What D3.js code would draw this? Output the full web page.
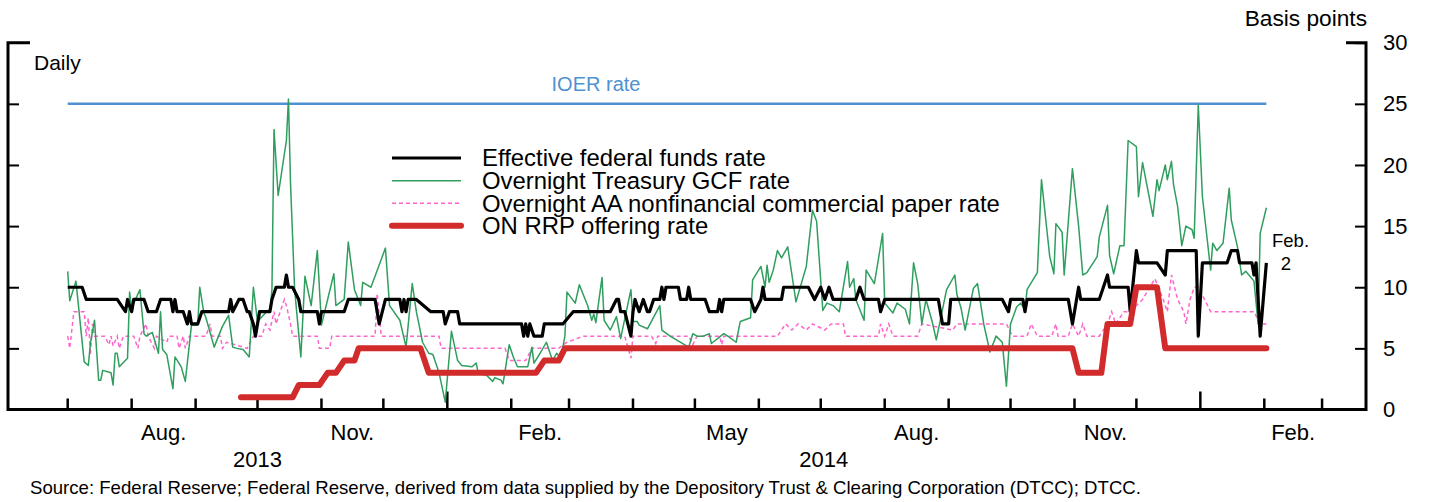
<!DOCTYPE html>
<html><head><meta charset="utf-8">
<script src="https://cdn.jsdelivr.net/npm/d3@7"></script>
<style>
html,body{margin:0;padding:0;background:#fff;}
svg{display:block;font-family:"Liberation Sans",Arial,Helvetica,sans-serif;}
</style></head><body>
<svg id="chart" width="1434" height="502"></svg>
<script>
// ---------------- DATA (basis points, daily) ----------------
const ioerDates = ["2013-07-01","2015-02-02"];
const ioerValues = [25,25];

const effrDates = ["2013-07-01","2013-07-08","2013-07-10","2013-07-25","2013-07-29","2013-07-30","2013-08-01","2013-08-02","2013-08-07","2013-08-09","2013-08-13","2013-08-15","2013-08-20","2013-08-21","2013-08-22","2013-08-23","2013-08-26","2013-08-28","2013-08-29","2013-08-30","2013-09-02","2013-09-04","2013-09-17","2013-09-18","2013-09-19","2013-09-22","2013-09-24","2013-09-26","2013-09-27","2013-09-29","2013-09-30","2013-10-01","2013-10-02","2013-10-07","2013-10-08","2013-10-10","2013-10-14","2013-10-15","2013-10-16","2013-10-18","2013-10-21","2013-10-22","2013-10-30","2013-10-31","2013-11-01","2013-11-12","2013-11-14","2013-11-27","2013-11-29","2013-12-02","2013-12-09","2013-12-10","2013-12-11","2013-12-12","2013-12-13","2013-12-17","2013-12-24","2013-12-30","2013-12-31","2014-01-02","2014-01-06","2014-01-07","2014-02-06","2014-02-07","2014-02-08","2014-02-09","2014-02-10","2014-02-12","2014-02-16","2014-02-17","2014-02-26","2014-03-03","2014-03-21","2014-03-24","2014-03-25","2014-03-26","2014-03-28","2014-03-31","2014-04-01","2014-04-02","2014-04-04","2014-04-06","2014-04-08","2014-04-09","2014-04-11","2014-04-14","2014-04-15","2014-04-16","2014-04-17","2014-04-23","2014-04-24","2014-04-27","2014-04-28","2014-04-29","2014-05-06","2014-05-08","2014-05-12","2014-05-13","2014-05-14","2014-05-15","2014-05-28","2014-05-30","2014-06-02","2014-06-03","2014-06-04","2014-06-12","2014-06-13","2014-06-25","2014-06-28","2014-07-01","2014-07-03","2014-07-05","2014-07-07","2014-07-18","2014-07-20","2014-07-22","2014-07-29","2014-07-30","2014-08-01","2014-08-27","2014-08-29","2014-09-01","2014-09-02","2014-09-27","2014-09-30","2014-10-01","2014-10-07","2014-10-08","2014-10-09","2014-10-29","2014-10-31","2014-11-03","2014-11-04","2014-11-13","2014-11-17","2014-11-18","2014-11-27","2014-11-28","2014-12-01","2014-12-02","2014-12-11","2014-12-15","2014-12-16","2014-12-30","2014-12-31","2015-01-02","2015-01-14","2015-01-16","2015-01-19","2015-01-20","2015-01-26","2015-01-27","2015-01-28","2015-01-30","2015-02-02"];
const effrValues = [10,10,9,9,8,9,8,9,9,8,8,9,9,8,9,8,8,7,8,7,7,8,8,9,8,9,9,8,8,7,6,7,8,8,9,10,10,11,10,10,9,8,8,7,8,8,9,9,7,9,9,8,9,8,9,9,8,8,7,8,8,7,7,6,7,6,7,6,6,7,7,8,8,9,9,8,8,6,8,9,8,9,8,8,9,9,10,9,10,10,9,9,10,9,9,8,8,9,8,9,9,8,9,10,9,9,10,10,9,10,9,10,9,9,10,9,9,8,9,9,7,7,9,9,8,9,9,8,9,9,7,10,9,9,11,10,10,8,13,12,12,11,13,13,6,12,12,13,13,12,12,11,12,6,12];

const gcfDates = ["2013-07-01","2013-07-02","2013-07-05","2013-07-09","2013-07-11","2013-07-12","2013-07-14","2013-07-16","2013-07-17","2013-07-18","2013-07-22","2013-07-23","2013-07-24","2013-07-25","2013-07-26","2013-07-30","2013-07-31","2013-08-01","2013-08-05","2013-08-07","2013-08-08","2013-08-11","2013-08-14","2013-08-15","2013-08-16","2013-08-18","2013-08-21","2013-08-22","2013-08-25","2013-08-27","2013-08-30","2013-09-02","2013-09-03","2013-09-05","2013-09-06","2013-09-10","2013-09-14","2013-09-17","2013-09-19","2013-09-21","2013-09-24","2013-09-27","2013-09-29","2013-10-01","2013-10-06","2013-10-07","2013-10-08","2013-10-09","2013-10-11","2013-10-15","2013-10-16","2013-10-17","2013-10-19","2013-10-22","2013-10-24","2013-10-27","2013-10-30","2013-11-01","2013-11-07","2013-11-08","2013-11-12","2013-11-14","2013-11-17","2013-11-20","2013-11-21","2013-11-25","2013-12-02","2013-12-04","2013-12-09","2013-12-12","2013-12-15","2013-12-17","2013-12-20","2013-12-23","2013-12-25","2013-12-28","2013-12-31","2014-01-03","2014-01-06","2014-01-08","2014-01-13","2014-01-15","2014-01-16","2014-01-20","2014-01-23","2014-01-24","2014-01-27","2014-01-28","2014-01-31","2014-02-02","2014-02-04","2014-02-09","2014-02-11","2014-02-12","2014-02-15","2014-02-18","2014-02-21","2014-02-23","2014-02-25","2014-02-27","2014-02-28","2014-03-04","2014-03-06","2014-03-10","2014-03-12","2014-03-13","2014-03-14","2014-03-17","2014-03-18","2014-03-21","2014-03-24","2014-03-26","2014-03-31","2014-04-01","2014-04-03","2014-04-04","2014-04-08","2014-04-14","2014-04-15","2014-04-19","2014-04-28","2014-04-30","2014-05-02","2014-05-05","2014-05-08","2014-05-09","2014-05-15","2014-05-17","2014-05-21","2014-05-23","2014-05-28","2014-05-29","2014-06-02","2014-06-04","2014-06-05","2014-06-06","2014-06-08","2014-06-10","2014-06-12","2014-06-15","2014-06-19","2014-06-24","2014-06-27","2014-06-29","2014-07-02","2014-07-04","2014-07-07","2014-07-10","2014-07-14","2014-07-15","2014-07-17","2014-07-18","2014-07-22","2014-07-23","2014-07-27","2014-07-31","2014-08-01","2014-08-05","2014-08-07","2014-08-11","2014-08-13","2014-08-15","2014-08-17","2014-08-19","2014-08-21","2014-08-24","2014-08-26","2014-08-31","2014-09-04","2014-09-05","2014-09-07","2014-09-09","2014-09-13","2014-09-15","2014-09-18","2014-09-21","2014-09-24","2014-09-27","2014-09-29","2014-10-01","2014-10-04","2014-10-06","2014-10-08","2014-10-09","2014-10-14","2014-10-16","2014-10-20","2014-10-22","2014-10-23","2014-10-26","2014-10-27","2014-10-31","2014-11-03","2014-11-05","2014-11-07","2014-11-12","2014-11-13","2014-11-17","2014-11-18","2014-11-20","2014-11-23","2014-11-25","2014-11-27","2014-12-01","2014-12-02","2014-12-04","2014-12-09","2014-12-11","2014-12-12","2014-12-15","2014-12-16","2014-12-18","2014-12-19","2014-12-21","2014-12-23","2014-12-25","2014-12-28","2014-12-29","2014-12-31","2015-01-02","2015-01-06","2015-01-07","2015-01-09","2015-01-12","2015-01-15","2015-01-16","2015-01-19","2015-01-21","2015-01-23","2015-01-27","2015-01-29","2015-01-30","2015-02-02"];
const gcfValues = [11.3,8.9,10.5,3.9,3.6,5.4,7.3,2.4,2.4,3.2,3,2,4.6,4.6,3.5,4.2,9.6,8.3,9.8,6.2,6,6.3,4.6,8,4.9,4.5,1.7,4.3,3.5,2.3,6.9,6.9,10,7.9,7.5,5.1,6.8,7.7,5.1,5,4.9,4.3,10,7.2,8.1,8.1,9.8,22.9,17.5,22,25.4,18.5,9.8,4.3,10.9,8.5,13,6.9,11.1,8.5,9,13.7,9.8,8.5,10.4,10,13.2,8.5,7.3,5.1,10.3,8,5.5,4.6,4.5,3,0.6,6.4,4,3.6,3.5,3.8,3,2.8,2.3,2.6,2.4,2.1,5.3,4.3,3.5,3.5,5.1,3.8,4.6,5.5,4,4.6,4.2,6,9.6,8.7,10.2,8.5,7.3,7.8,7.1,10.8,7.3,6.5,7.6,5.8,9.8,7.2,7.2,6.9,6.6,8.5,6.5,6,5.1,6.2,6,6,6.2,5.4,6.2,6,5.5,7.2,7.5,10.6,11.7,10,11.8,10.4,11.4,13,12.4,13.3,8.8,11.7,16.3,15.4,8.1,8.7,8.5,8,12.1,10,10.7,9,7.3,11.4,10.3,14.4,8.7,7.9,8.7,8.2,7,12,10.3,7,9,7.2,5.7,9.8,11,9.4,8.3,6.5,9.9,10.3,7,4.7,6,5.5,1.9,7,8.4,8.7,8.1,9.8,11.2,18.8,12.5,11.1,15.2,14.5,11,19.7,15,11,11.2,12.5,14.1,16.7,12.6,11.1,13.4,13.4,22,21.5,17.4,20.2,15.8,18.8,17.9,20,18.8,20.3,18.4,16.6,13.4,15,14.7,14,24.9,17.4,11.4,13.6,13,13.6,18.1,15.5,13.3,11,11.3,10.5,7,14.4,16.5];

const cpDates = ["2013-07-01","2013-07-02","2013-07-04","2013-07-09","2013-07-10","2013-07-11","2013-07-12","2013-07-13","2013-07-14","2013-07-19","2013-07-21","2013-07-22","2013-07-23","2013-07-25","2013-07-26","2013-07-28","2013-08-02","2013-08-04","2013-08-05","2013-08-08","2013-08-09","2013-08-12","2013-08-13","2013-08-18","2013-08-19","2013-08-23","2013-08-24","2013-08-26","2013-08-27","2013-08-29","2013-09-06","2013-09-08","2013-09-09","2013-09-13","2013-09-14","2013-09-16","2013-09-26","2013-09-29","2013-10-03","2013-10-05","2013-10-07","2013-10-09","2013-10-10","2013-10-14","2013-10-15","2013-10-17","2013-10-18","2013-10-30","2013-10-31","2013-11-05","2013-11-06","2013-11-27","2013-11-28","2013-11-30","2013-12-28","2013-12-29","2014-01-29","2014-01-31","2014-02-08","2014-02-11","2014-02-24","2014-02-28","2014-03-08","2014-03-28","2014-03-31","2014-04-01","2014-04-10","2014-04-12","2014-04-13","2014-04-28","2014-04-30","2014-05-02","2014-05-13","2014-05-14","2014-05-15","2014-06-10","2014-06-14","2014-06-17","2014-06-20","2014-06-24","2014-06-27","2014-07-03","2014-07-06","2014-07-12","2014-07-13","2014-07-29","2014-07-30","2014-08-01","2014-08-03","2014-08-05","2014-08-17","2014-08-19","2014-09-03","2014-09-05","2014-09-29","2014-10-02","2014-10-09","2014-10-11","2014-10-14","2014-10-21","2014-10-23","2014-10-24","2014-10-29","2014-10-31","2014-11-03","2014-11-05","2014-11-07","2014-11-13","2014-11-17","2014-11-19","2014-11-21","2014-11-25","2014-11-28","2014-12-04","2014-12-10","2014-12-14","2014-12-16","2014-12-18","2014-12-21","2014-12-24","2014-12-25","2014-12-27","2014-12-29","2014-12-31","2015-01-06","2015-01-27","2015-01-30","2015-02-02"];
const cpValues = [6,5,8,8,6,7.5,4.5,7,6,6,5.3,6,5.2,6,5,6,6,5,6,7,6,5,6,5.5,6,6,5,6,5,6,6,7,6,6,5,5.5,5,6,6,7,6.5,8,7,9,8.5,7,6,6,5,5,6,6,9.5,6,6,5,5,4,4,5,5,5.5,6,6,4.2,6,6,5.4,6,6,5.3,6,6,5.3,6,6,7,6.5,7,6.5,7,6.5,7,7,6,6,7,6,7,6,6,7,6.5,7,7,6,6,7,6,6,7,6,6,7,6,7,6,6,7,8,7,8,8,9,10.7,9,8,11,9,8,7,9,10,10,8,8,7,7];

const rrpDates = ["2013-09-23","2013-10-18","2013-10-21","2013-10-31","2013-11-04","2013-11-08","2013-11-12","2013-11-17","2013-11-19","2013-12-19","2013-12-23","2014-02-13","2014-02-17","2014-02-24","2014-02-27","2014-10-31","2014-11-03","2014-11-14","2014-11-17","2014-11-28","2014-12-01","2014-12-11","2014-12-15","2015-02-02"];
const rrpValues = [1,1,2,2,3,3,4,4,5,5,3,3,4,4,5,5,3,3,7,7,10,10,5,5];

const yTickValues = [0,5,10,15,20,25,30];
const xLabelMonths = ["2013-08-01","2013-11-01","2014-02-01","2014-05-01","2014-08-01","2014-11-01","2015-02-01"];
const xLabelTexts = ["Aug.","Nov.","Feb.","May","Aug.","Nov.","Feb."];
const yearLabels = ["2013","2014"];
const legendNames = ["Effective federal funds rate","Overnight Treasury GCF rate","Overnight AA nonfinancial commercial paper rate","ON RRP offering rate"];

// ---------------- CHART ----------------
const parse = d3.timeParse("%Y-%m-%d");
const svg = d3.select("#chart");
const FONT = '"Liberation Sans",Arial,Helvetica,sans-serif';

const x = d3.scaleTime().domain([parse("2013-07-01"), parse("2015-02-01")]).range([67.7, 1264.3]);
const y = d3.scaleLinear().domain([0, 30]).range([409.5, 42.7]);

const left = 8, right = 1366;
const y0 = y(0);

function series(dates, values){ return dates.map((d,i)=>({date: parse(d), value: values[i]})); }
const line = d3.line().x(d=>x(d.date)).y(d=>y(d.value));

// frame
svg.append("path")
  .attr("d", `M${left+22},${y(30)}H${left}V${y0}H${right}V${y(30)}H${right-20}`)
  .attr("fill","none").attr("stroke","#000").attr("stroke-width",3);

// left inner ticks
const gl = svg.append("g").attr("transform",`translate(${left},0)`)
  .call(d3.axisRight(y).tickValues([5,10,15,20,25]).tickSize(11).tickFormat(""));
gl.select(".domain").remove();
gl.selectAll(".tick line").attr("stroke","#000").attr("stroke-width",2);

// right axis
const gr = svg.append("g").attr("transform",`translate(${right},0)`)
  .call(d3.axisRight(y).tickValues(yTickValues).tickSize(-11).tickPadding(17).tickFormat(d3.format("d")));
gr.select(".domain").remove();
gr.selectAll(".tick line").attr("stroke","#000").attr("stroke-width",2);
gr.selectAll(".tick text").attr("font-size",22).attr("font-family",FONT).attr("fill","#000");

// x month ticks
const months = d3.timeMonth.range(parse("2013-07-01"), parse("2015-03-02"));
svg.append("g").selectAll("line").data(months).join("line")
  .attr("x1",d=>x(d)).attr("x2",d=>x(d))
  .attr("y1",y0).attr("y2",d=> y0 - (d.getMonth()===0 ? 18 : 11))
  .attr("stroke","#000").attr("stroke-width",2.5);

// x labels (mid-month)
svg.append("g").selectAll("text").data(xLabelMonths).join("text")
  .attr("x",(d)=>{const m=parse(d); return (x(m)+x(d3.timeMonth.offset(m,1)))/2;})
  .attr("y",440).attr("text-anchor","middle").attr("font-size",22).attr("font-family",FONT)
  .text((d,i)=>xLabelTexts[i]);

svg.append("g").selectAll("text").data(yearLabels).join("text")
  .attr("x",d=>{const a=d3.max([parse(d+"-01-01"), x.domain()[0]]); const b=parse((+d+1)+"-01-01"); return (x(a)+x(b))/2;})
  .attr("y",467).attr("text-anchor","middle").attr("font-size",22).attr("font-family",FONT)
  .text(d=>d);

// series
const ioer = series(ioerDates, ioerValues);
const effr = series(effrDates, effrValues);
const gcf = series(gcfDates, gcfValues);
const cp = series(cpDates, cpValues);
const rrp = series(rrpDates, rrpValues);

const COL = {ioer:"#4f91d0", effr:"#000000", gcf:"#2f9e5e", cp:"#ff66cc", rrp:"#d12b2b"};

svg.append("path").datum(ioer).attr("d",line).attr("fill","none").attr("stroke",COL.ioer).attr("stroke-width",2.5);
svg.append("path").datum(cp).attr("d",line).attr("fill","none").attr("stroke",COL.cp).attr("stroke-width",1.5).attr("stroke-dasharray","4,3");
svg.append("path").datum(gcf).attr("d",line).attr("fill","none").attr("stroke",COL.gcf).attr("stroke-width",1.5).attr("stroke-linejoin","round");
svg.append("path").datum(effr).attr("d",line).attr("fill","none").attr("stroke",COL.effr).attr("stroke-width",3.2).attr("stroke-linejoin","round");
svg.append("path").datum(rrp).attr("d",line).attr("fill","none").attr("stroke",COL.rrp).attr("stroke-width",6).attr("stroke-linejoin","round").attr("stroke-linecap","round");

// legend
const legY = [158, 180.7, 203.3, 225.7];
const legStyle = [
  {c:COL.effr, w:3.2, dash:null, cap:"butt"},
  {c:COL.gcf, w:1.5, dash:null, cap:"butt"},
  {c:COL.cp, w:1.5, dash:"4,3", cap:"butt"},
  {c:COL.rrp, w:6, dash:null, cap:"round"}
];
const leg = svg.append("g");
legendNames.forEach((n,i)=>{
  const s = legStyle[i];
  const l = leg.append("line").attr("x1",392).attr("x2",461).attr("y1",legY[i]).attr("y2",legY[i])
    .attr("stroke",s.c).attr("stroke-width",s.w).attr("stroke-linecap",s.cap);
  if (s.dash) l.attr("stroke-dasharray",s.dash);
  leg.append("text").attr("x",482).attr("y",legY[i]+8.4).attr("font-size",23.9).attr("font-family",FONT).text(n);
});

// annotations
svg.append("text").attr("x",34).attr("y",70).attr("font-size",21).attr("font-family",FONT).text("Daily");
svg.append("text").attr("x",1367).attr("y",26).attr("text-anchor","end").attr("font-size",22.7).attr("font-family",FONT).text("Basis points");
svg.append("text").attr("x",596).attr("y",91).attr("text-anchor","middle").attr("font-size",20).attr("font-family",FONT).attr("fill",COL.ioer).text("IOER rate");
svg.append("text").attr("x",1272).attr("y",247).attr("font-size",18.5).attr("font-family",FONT).text("Feb.");
svg.append("text").attr("x",1286).attr("y",270).attr("text-anchor","middle").attr("font-size",18.5).attr("font-family",FONT).text("2");
svg.append("text").attr("x",30).attr("y",494).attr("font-size",18.6).attr("font-family",FONT)
  .text("Source: Federal Reserve; Federal Reserve, derived from data supplied by the Depository Trust & Clearing Corporation (DTCC); DTCC.");
</script>
</body></html>
